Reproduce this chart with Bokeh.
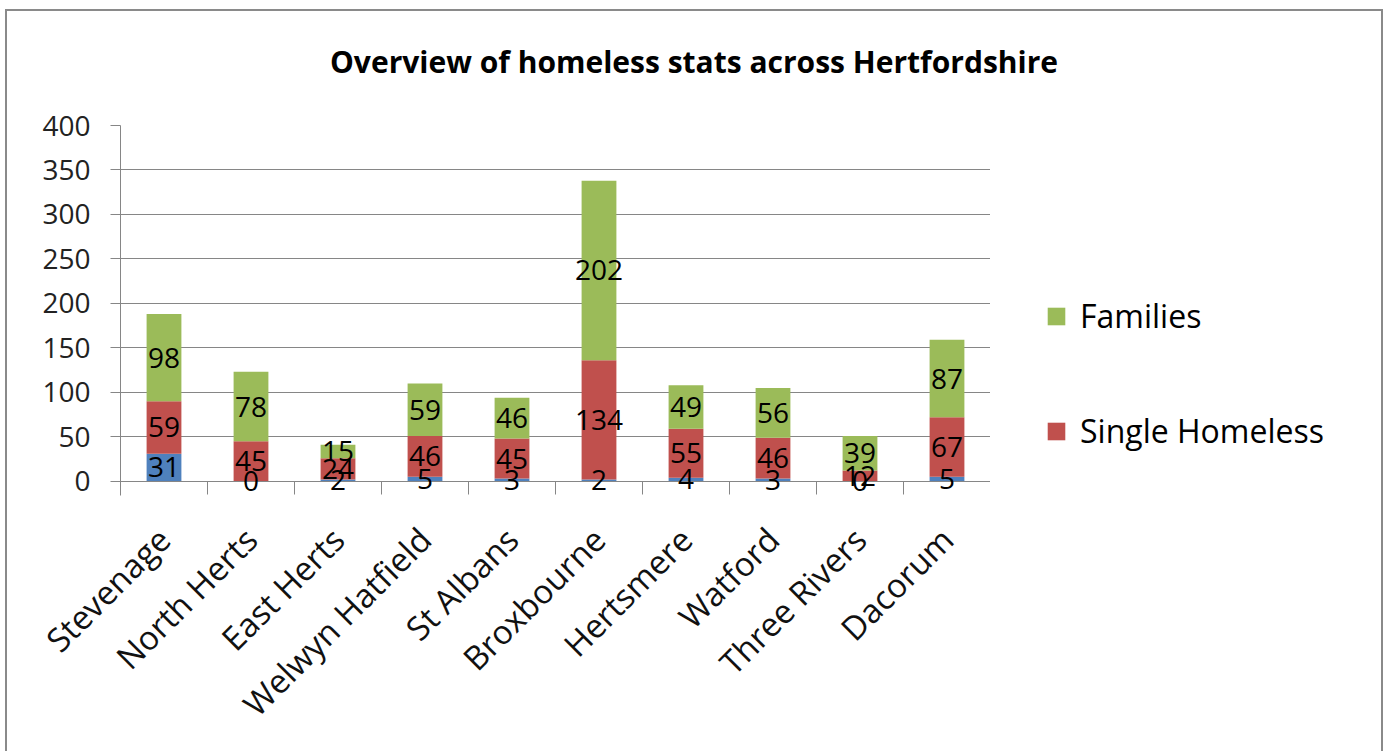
import math
from bokeh.plotting import figure
from bokeh.layouts import row, column
from bokeh.models import (ColumnDataSource, Range1d, LinearAxis, Grid, Div,
                          FixedTicker, Legend, LegendItem, LabelSet)
from bokeh.core.properties import value
from bokeh.embed import file_html
from bokeh.resources import INLINE

categories = ["Stevenage", "North Herts", "East Herts", "Welwyn Hatfield", "St Albans",
              "Broxbourne", "Hertsmere", "Watford", "Three Rivers", "Dacorum"]
rough = [31, 0, 2, 5, 3, 2, 4, 3, 0, 5]
single = [59, 45, 24, 46, 45, 134, 55, 46, 12, 67]
families = [98, 78, 15, 59, 46, 202, 49, 56, 39, 87]
y_ticks = [0, 50, 100, 150, 200, 250, 300, 350, 400]
series_names = ["Rough sleepers /\nHousing First", "Single Homeless", "Families"]
title_text = "Overview of homeless stats across Hertfordshire"

C_ROUGH = "#4F81BD"
C_SINGLE = "#C0504D"
C_FAM = "#9BBB59"
GRAY = "#868686"
FONT = "Open Sans"

n = len(categories)
xpos = [i + 0.5 for i in range(n)]

# ---------- title ----------
title = Div(text=title_text, width=1374, height=80, margin=0,
            styles={"font-family": FONT, "font-size": "30px", "font-weight": "bold",
                    "text-align": "center", "line-height": "80px", "color": "black",
                    "transform": "translateY(11px)"})

# ---------- main chart ----------
p = figure(x_range=Range1d(0, n), y_range=Range1d(-16, 400),
           width=983, height=660, output_backend="svg", toolbar_location=None,
           x_axis_location=None, min_border_left=113, min_border_top=34,
           min_border_right=0, min_border_bottom=256, title=None)
p.outline_line_color = None
p.background_fill_color = "white"
p.border_fill_color = "white"
p.xgrid.grid_line_color = None

src = ColumnDataSource(dict(x=xpos, cat=categories, rough=rough, single=single, families=families))
rs = p.vbar_stack(["rough", "single", "families"], x="x", width=0.4,
                  color=[C_ROUGH, C_SINGLE, C_FAM], line_color=None, source=src)

# data labels at segment centres
lab_x, lab_y, lab_t = [], [], []
for i in range(n):
    b = 0
    for v in (rough[i], single[i], families[i]):
        lab_x.append(xpos[i])
        lab_y.append(b + v / 2)
        lab_t.append(str(v))
        b += v
lsrc = ColumnDataSource(dict(x=lab_x, y=lab_y, t=lab_t))
p.add_layout(LabelSet(x="x", y="y", text="t", source=lsrc, text_align="center",
                      text_baseline="middle", text_font=value(FONT),
                      text_font_size=value("28px"), text_color="black"))

# y axis
ya = p.yaxis[0]
ya.ticker = FixedTicker(ticks=y_ticks)
ya.axis_line_color = GRAY
ya.major_tick_line_color = GRAY
ya.major_tick_out = 10
ya.major_tick_in = 0
ya.minor_tick_line_color = None
ya.major_label_text_font = FONT
ya.major_label_text_font_size = "28px"
ya.major_label_text_color = "#222222"
ya.major_label_standoff = 20
p.ygrid.grid_line_color = GRAY
p.ygrid.ticker = FixedTicker(ticks=y_ticks)

# x axis line at zero with ticks at category boundaries
bounds = list(range(n + 1))
xt = LinearAxis(ticker=FixedTicker(ticks=bounds), fixed_location=0,
                major_label_overrides={b: "" for b in bounds})
xt.axis_line_color = GRAY
xt.major_tick_line_color = GRAY
xt.major_tick_out = 13
xt.major_tick_in = 0
xt.minor_tick_line_color = None
xt.major_label_standoff = 0
p.add_layout(xt, "below")

# category labels at category centres
xa = LinearAxis(ticker=FixedTicker(ticks=xpos),
                major_label_overrides={x: c for x, c in zip(xpos, categories)})
xa.axis_line_color = None
xa.major_tick_line_color = None
xa.minor_tick_line_color = None
xa.major_label_orientation = math.pi / 4
xa.major_label_text_font = FONT
xa.major_label_text_font_size = "33px"
xa.major_label_text_color = "#111111"
xa.major_label_standoff = 32
p.add_layout(xa, "below")

# ---------- legend panel ----------
q = figure(x_range=Range1d(0, 1), y_range=Range1d(0, 1), width=391, height=660,
           output_backend="svg", toolbar_location=None, x_axis_location=None,
           y_axis_location=None, min_border=0, title=None)
q.outline_line_color = None
q.background_fill_color = "white"
q.border_fill_color = "white"
for g in q.select(type=Grid):
    g.visible = False
swatch = ColumnDataSource(dict(x=[-10], top=[0]))
lr = [q.vbar(x="x", top="top", width=0.1, color=c, line_color=None, source=swatch)
      for c in (C_ROUGH, C_SINGLE, C_FAM)]

legend = Legend(items=[LegendItem(label=series_names[2], renderers=[lr[2]]),
                       LegendItem(label=series_names[1], renderers=[lr[1]]),
                       LegendItem(label=series_names[0], renderers=[lr[0]])],
                location="top_left", title=" ")
legend.border_line_color = None
legend.background_fill_alpha = 0
legend.padding = 0
legend.margin = 55
legend.title_text_font_size = "32px"
legend.title_standoff = 77
legend.glyph_width = 22
legend.glyph_height = 22
legend.label_standoff = 13
legend.spacing = 72
legend.label_text_font = FONT
legend.label_text_font_size = "32px"
legend.label_text_color = "black"
q.add_layout(legend)

layout = column(title, row(p, q, spacing=0), spacing=0,
                styles={"border-top": "2px solid #8a8a8a", "border-left": "2px solid #8a8a8a",
                        "border-right": "2px solid #8a8a8a", "margin-left": "5px",
                        "margin-top": "9px"})

open("out.html", "w").write(file_html(layout, INLINE))
